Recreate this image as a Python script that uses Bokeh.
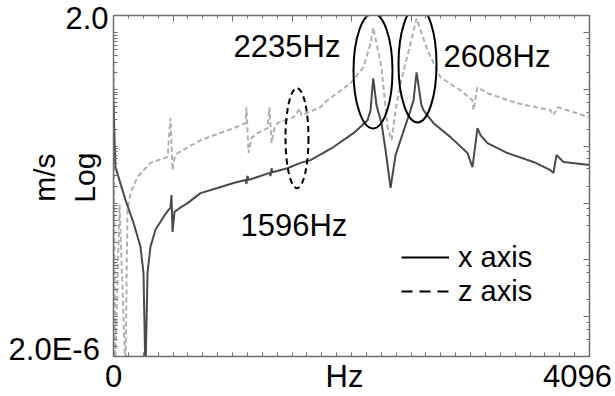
import math
from bokeh.plotting import figure
from bokeh.models import (LinearAxis, LogAxis, SingleIntervalTicker, LogTicker, FixedTicker,
                          CustomJSTickFormatter, Label, Legend, LegendItem)
from bokeh.embed import file_html
from bokeh.resources import INLINE

# ---- data ----
x_freq = [0, 9, 17, 103, 172, 232, 258, 275, 293, 318, 361, 430, 473, 490, 499, 508, 525,
          559, 637, 749, 895, 1033, 1136, 1144, 1153, 1162, 1265, 1342, 1351, 1360, 1368,
          1497, 1609, 1695, 1893, 2065, 2186, 2212, 2235, 2263, 2306, 2341, 2384, 2427,
          2470, 2556, 2582, 2608, 2650, 2668, 2754, 2900, 3046, 3089, 3132, 3158, 3218,
          3390, 3614, 3760, 3786, 3812, 3872, 4096]
x_vals = [0.0645, 0.0128, 4.3e-3, 1.14e-3, 4.5e-4, 1.7e-4, 6.0e-5, 1.0e-6, 6.0e-5, 1.7e-4,
          3.4e-4, 5.7e-4, 7.6e-4, 8.2e-4, 1.39e-3, 3.1e-4, 7.0e-4,
          7.9e-4, 1.0e-3, 1.5e-3, 1.85e-3, 2.26e-3, 2.55e-3, 2.17e-3, 3.0e-3, 2.55e-3,
          3.0e-3, 3.4e-3, 3.0e-3, 4.1e-3, 3.5e-3,
          4.1e-3, 5.1e-3, 5.7e-3, 9.7e-3, 0.017, 0.0288, 0.043, 0.157, 0.053, 0.0255,
          8.6e-3, 1.85e-3, 7.0e-3,
          0.0128, 0.043, 0.0645, 0.2, 0.053, 0.043, 0.0255, 0.0145, 7.6e-3, 4.3e-3,
          0.0208, 0.0157, 0.0114,
          7.6e-3, 5.3e-3, 3.8e-3, 3.4e-3, 7.0e-3, 5.3e-3, 4.7e-3]

z_freq = [0, 13, 52, 103, 120, 146, 207, 318, 465, 490, 508, 525, 551, 749, 1033, 1136,
          1144, 1162, 1187, 1239, 1325, 1342, 1360, 1385, 1411, 1549, 1583, 1600, 1618,
          1781, 1841, 2039, 2151, 2212, 2235, 2306, 2358, 2393, 2427, 2470, 2556, 2608,
          2702, 2814, 2986, 3089, 3098, 3132, 3218, 3476, 3760, 3786, 3821, 4096]
z_vals = [0.3, 1.0e-6, 9.3e-4, 1.0e-6, 7.6e-4, 1.5e-3, 2.9e-3, 5.1e-3, 6.5e-3, 0.0312,
          3.8e-3, 6.2e-3, 7.6e-3, 0.0128, 0.0208, 0.0255,
          0.0486, 7.6e-3, 0.0139, 0.017, 0.0208, 0.0486, 0.0114, 0.0208, 0.0255, 0.0325,
          0.0397, 0.0467, 0.0352,
          0.0486, 0.0645, 0.128, 0.245, 0.646, 1.23, 0.245, 0.0217, 0.0128, 0.043, 0.128,
          0.646, 1.77,
          0.486, 0.163, 0.0966, 0.0645, 0.043, 0.109, 0.0857, 0.0571, 0.043, 0.0352,
          0.0486, 0.0325]

series_names = ["x axis", "z axis"]
peak_labels = ["2235Hz", "2608Hz", "1596Hz"]
x_tick_labels = ["0", "Hz", "4096"]
y_tick_labels = ["2.0", "2.0E-6\u00a0"]
NB = "\u00a0" * 2
y_axis_title = NB + "m/s\n" + NB + "Log"
x_min, x_max = 0, 4096
y_min, y_max = 2.0e-6, 2.0

FONT = "Liberation Sans"
FS = "31px"
AX_COLOR = "#6e6e6e"

p = figure(width=615, height=396, x_range=(x_min, x_max), y_range=(y_min, y_max),
           y_axis_type="log", output_backend="svg", toolbar_location=None,
           min_border_left=113, min_border_right=26, min_border_top=15,
           min_border_bottom=39, background_fill_color="white",
           border_fill_color="white")
p.title.visible = False
p.outline_line_color = None
p.grid.visible = False


def style_axis(ax, major_in=6, minor_in=3, font_size=FS):
    ax.axis_line_color = AX_COLOR
    ax.axis_line_width = 1.5
    ax.major_tick_line_color = AX_COLOR
    ax.minor_tick_line_color = AX_COLOR
    ax.major_tick_out = 0
    ax.minor_tick_out = 0
    ax.major_tick_in = major_in
    ax.minor_tick_in = minor_in
    ax.major_label_text_font = FONT
    ax.major_label_text_font_size = font_size
    ax.major_label_text_color = "black"


label_code = "const i = pos.indexOf(tick); return i >= 0 ? txt[i] : '';"
empty = CustomJSTickFormatter(code="return ''")

# bottom axis: labels at 0 / Hz / 4096, ticks every 128
x_label_pos = [0, 1988, 3993]
xa = p.xaxis[0]
xa.ticker = FixedTicker(ticks=x_label_pos, minor_ticks=list(range(x_min, x_max + 1, 128)))
xa.formatter = CustomJSTickFormatter(args=dict(pos=x_label_pos, txt=x_tick_labels), code=label_code)
style_axis(xa, major_in=0, minor_in=4)
xa.major_label_standoff = 2

# left axis: labels at top / bottom, log minor ticks
y_label_pos = [1.75, 2.65e-6]
y_minor = [m * 10.0 ** e for e in range(-6, 1) for m in range(1, 10) if y_min <= m * 10.0 ** e <= y_max]
ya = p.yaxis[0]
ya.ticker = FixedTicker(ticks=y_label_pos, minor_ticks=y_minor)
ya.formatter = CustomJSTickFormatter(args=dict(pos=y_label_pos, txt=y_tick_labels), code=label_code)
style_axis(ya, major_in=0, minor_in=4)
ya.major_label_standoff = 5
ya.axis_label = y_axis_title
ya.axis_label_text_font = FONT
ya.axis_label_text_font_size = "30px"
ya.axis_label_text_font_style = "normal"
ya.axis_label_text_color = "black"
ya.axis_label_standoff = -95

top = LinearAxis(ticker=SingleIntervalTicker(interval=512, num_minor_ticks=4), formatter=empty)
style_axis(top, font_size="1px")
top.major_label_standoff = 0
p.add_layout(top, "above")
right = LogAxis(ticker=LogTicker(), formatter=empty)
style_axis(right, font_size="1px")
right.major_label_standoff = 0
p.add_layout(right, "right")

# ---- curves ----
p.line(z_freq, z_vals, line_color="#b0b0b0", line_width=2, line_dash="5 3")
p.line(x_freq, x_vals, line_color="#4a4a4a", line_width=2)

# ---- annotation ellipses ----
p.ellipse(x=[2233], y=[0.212], width=39, height=115, width_units="screen",
          height_units="screen", fill_color=None, line_color="black", line_width=2)
p.ellipse(x=[2616], y=[0.276], width=38, height=116, width_units="screen",
          height_units="screen", fill_color=None, line_color="black", line_width=2)
p.ellipse(x=[1579], y=[0.0139], width=23, height=100, width_units="screen",
          height_units="screen", fill_color=None, line_color="black", line_width=2,
          line_dash="6 4")


def lab(x, y, text, align="left"):
    p.add_layout(Label(x=x, y=y, text=text, text_font=FONT, text_font_size=FS,
                       text_color="black", text_align=align, text_baseline="alphabetic"))


lab(1033, 0.571, peak_labels[0])
lab(2840, 0.374, peak_labels[1])
lab(1093, 4.06e-4, peak_labels[2])

# ---- legend with black sample lines ----
nan = float("nan")
r1 = p.line([nan, nan], [nan, nan], line_color="black", line_width=2)
r2 = p.line([nan, nan], [nan, nan], line_color="black", line_width=2, line_dash="11 7")
legend = Legend(items=[LegendItem(label=series_names[0], renderers=[r1]),
                       LegendItem(label=series_names[1], renderers=[r2])],
                location=(288, 48), orientation="vertical",
                label_text_font=FONT, label_text_font_size="29px",
                label_text_color="black",
                glyph_width=48, glyph_height=34, label_height=34,
                label_standoff=9, spacing=0, padding=0, margin=0,
                border_line_color=None, background_fill_alpha=0)
p.add_layout(legend, "center")

open("out.html", "w").write(file_html(p, INLINE))
